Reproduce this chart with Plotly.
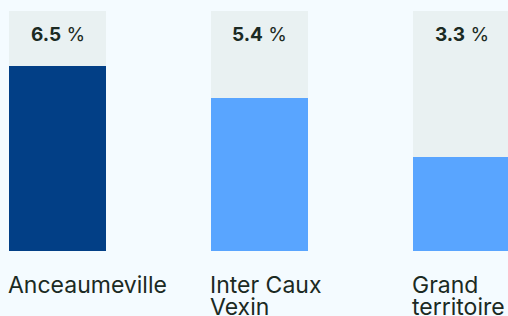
import plotly.graph_objects as go

categories = ["Anceaumeville", "Inter Caux<br>Vexin", "Grand<br>territoire"]
values = [6.5, 5.4, 3.3]
value_labels = ["6.5", "5.4", "3.3"]
bar_colors = ["#023f86", "#59a5ff", "#59a5ff"]

bg_max = max(values) * 1.3
x = list(range(len(values)))
bw = 0.48
txt = "#1b2a23"

fig = go.Figure()
fig.add_trace(go.Bar(x=x, y=[bg_max] * len(values), width=bw,
                     marker=dict(color="#e9f1f2", line=dict(width=0)),
                     hoverinfo="skip", showlegend=False))
fig.add_trace(go.Bar(x=x, y=values, width=bw,
                     marker=dict(color=bar_colors, line=dict(width=0)),
                     showlegend=False))

for i, (v, lab) in enumerate(zip(values, value_labels)):
    fig.add_annotation(x=i, y=bg_max, xref="x", yref="y",
                       text=f"<b>{lab}</b> %", showarrow=False,
                       yanchor="middle", yshift=-23,
                       font=dict(family="Inter", size=19, color=txt))
    for j, line in enumerate(categories[i].split("<br>")):
        fig.add_annotation(x=i - bw / 2, y=0, xref="x", yref="paper",
                           text=line, showarrow=False,
                           xanchor="left", yanchor="middle", align="left",
                           xshift=-3, yshift=-34 - 22 * j,
                           font=dict(family="Inter", size=23, color=txt))

fig.update_layout(
    width=508, height=316,
    margin=dict(l=0, r=0, t=11, b=65),
    paper_bgcolor="#f4fbff", plot_bgcolor="#f4fbff",
    barmode="overlay", bargap=0,
    xaxis=dict(range=[-57.5 / 202, (508 - 57.5) / 202], visible=False, fixedrange=True),
    yaxis=dict(range=[0, bg_max], visible=False, fixedrange=True),
)
fig.write_html("out.html", config={"displayModeBar": False},
               post_script="document.body.style.margin='0';document.body.style.overflow='hidden';document.body.style.background='#f4fbff';")
